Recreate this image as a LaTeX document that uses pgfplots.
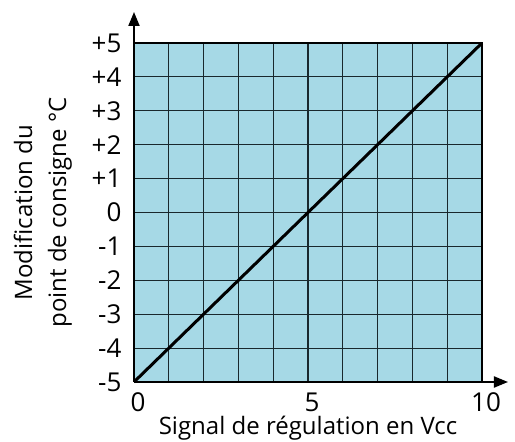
\documentclass[border=0pt]{standalone}
\usepackage{fontspec}
\setmainfont{Open Sans}
\usepackage{pgfplots}
\pgfplotsset{compat=1.18}
\usetikzlibrary{arrows.meta}
\definecolor{fillblue}{RGB}{166,217,230}
\definecolor{gridc}{RGB}{25,40,45}
\begin{document}
\begin{tikzpicture}
\useasboundingbox (-134pt,-60pt) rectangle (381pt,382pt);
\begin{axis}[
  at={(0pt,0pt)}, anchor=south west,
  scale only axis, width=348pt, height=339pt,
  xmin=0, xmax=10, ymin=-5, ymax=5,
  axis lines=left,
  axis line style={line width=2pt, -{Triangle[length=14pt,width=11pt]}},
  x axis line style={shorten >=-26pt},
  y axis line style={shorten >=-31pt},
  axis background/.style={fill=fillblue},
  xtick={0,1,...,10},
  xticklabels={0,,,,,5,,,,,10},
  ytick={-5,-4,...,5},
  yticklabels={-5,-4,-3,-2,-1,0,+1,+2,+3,+4,+5},
  major tick length=0pt,
  grid=major,
  major grid style={line width=1.1pt, gridc},
  tick label style={font=\fontsize{26}{28}\selectfont},
  xticklabel style={yshift=-7pt, xshift=4pt},
  yticklabel style={xshift=-9pt},
  xlabel={Signal de régulation en Vcc},
  xlabel style={font=\fontsize{24}{26}\selectfont, yshift=2pt},
  ylabel={Modification du\\point de consigne °C},
  ylabel style={font=\fontsize{24}{34}\selectfont, align=center, yshift=13pt},
  clip=false,
]
\addplot[line width=3pt, black] coordinates {(0,-5) (10,5)};
\draw[line width=2.5pt, black] (axis cs:0,5) -- (axis cs:10,5) -- (axis cs:10,-5);
\end{axis}
\end{tikzpicture}
\end{document}
